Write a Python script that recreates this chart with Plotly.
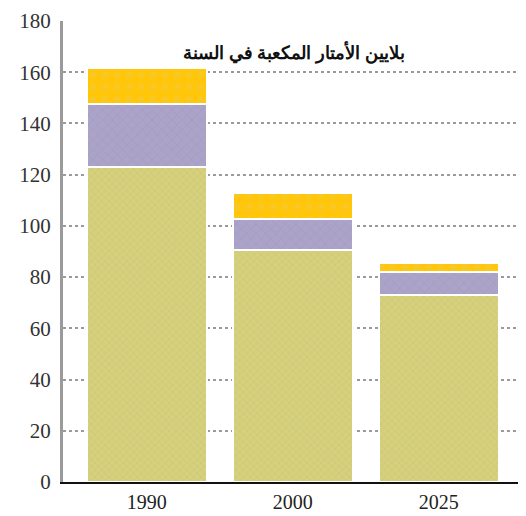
import plotly.graph_objects as go

# data
years = ["1990", "2000", "2025"]
green_vals = [123, 90.5, 73]
purple_vals = [24.5, 12, 9]
yellow_vals = [14, 10.5, 3.5]
title_text = "بلايين الأمتار المكعبة في السنة"

SERIF = "Liberation Serif, Times New Roman, serif"

fig = go.Figure()

# green base with a fine cross pattern
fig.add_trace(go.Bar(
    x=years, y=green_vals, width=0.82,
    marker=dict(color="#d3cc7c",
                line=dict(color="white", width=2),
                pattern=dict(shape="x", fgcolor="#a9c793", bgcolor="#d9cf78",
                             size=5, solidity=0.3)),
    hoverinfo="skip"))

# purple middle with diagonal lines
fig.add_trace(go.Bar(
    x=years, y=purple_vals, width=0.82,
    marker=dict(color="#a9a3c7",
                line=dict(color="white", width=2),
                pattern=dict(shape="x", fgcolor="#b68fb1", bgcolor="#a9a4c9",
                             size=7, solidity=0.25)),
    hoverinfo="skip"))

# yellow top
fig.add_trace(go.Bar(
    x=years, y=yellow_vals, width=0.82,
    marker=dict(color="#ffc60b",
                line=dict(color="white", width=2),
                pattern=dict(shape=".", fgcolor="#e9cc55", bgcolor="#ffc60b",
                             size=12, solidity=0.15)),
    hoverinfo="skip"))

fig.add_annotation(
    text="<b>" + title_text + "</b>",
    xref="paper", yref="y", x=0.49, y=168,
    showarrow=False,
    font=dict(family="Noto Sans", size=18, color="#111111"))

# the page adds an 8px body margin, so margins are shifted to compensate
fig.update_layout(
    barmode="stack",
    width=526, height=516,
    margin=dict(l=55, r=0, t=13, b=42, autoexpand=False),
    paper_bgcolor="white",
    plot_bgcolor="white",
    showlegend=False,
    bargap=0,
    xaxis=dict(
        type="category",
        range=[-0.573, 2.653],
        automargin=False,
        showline=True, linecolor="#111111", linewidth=2,
        showgrid=False, zeroline=False,
        ticks="", ticklabelstandoff=1,
        tickfont=dict(family=SERIF, size=20, color="#222222")),
    yaxis=dict(
        range=[0, 180],
        automargin=False,
        tickvals=[0, 20, 40, 60, 80, 100, 120, 140, 160, 180],
        showline=True, linecolor="#9a9a9a", linewidth=3,
        showgrid=True, gridcolor="#9a9a9a", gridwidth=2, griddash="dot",
        zeroline=False,
        ticks="", ticklabelstandoff=5,
        tickfont=dict(family=SERIF, size=21, color="#333333")),
)

fig.write_html("out.html")
